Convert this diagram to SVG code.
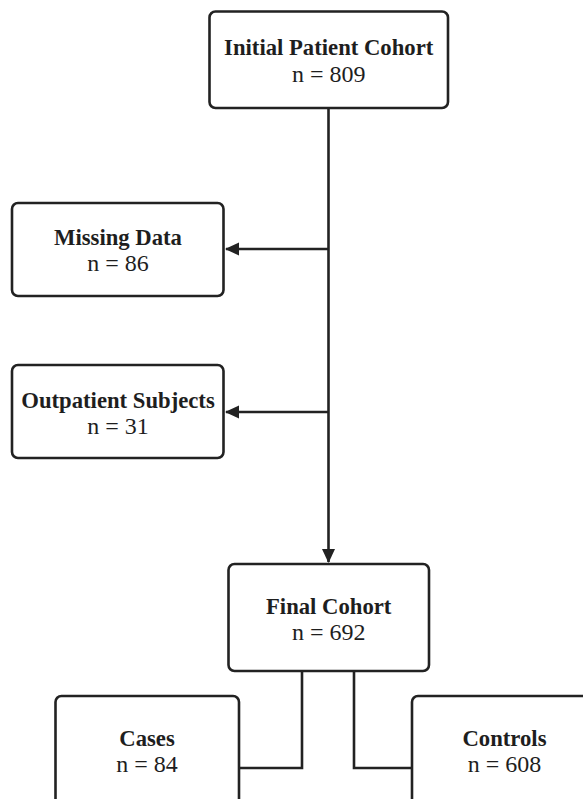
<svg xmlns="http://www.w3.org/2000/svg" width="583" height="799" viewBox="0 0 583 799">
<style>
.box{fill:#fff;stroke:#222;stroke-width:2.6}
.t{font-family:"Liberation Serif","Times New Roman",serif;fill:#1e1e1e;text-anchor:middle}
.b{font-weight:bold;font-size:22.7px}
.r{font-size:24px}
.c{fill:none;stroke:#222;stroke-width:2.6}
</style>
<defs>
<marker id="ah" viewBox="0 0 14 14" refX="13" refY="7" markerWidth="14" markerHeight="14" markerUnits="userSpaceOnUse" orient="auto">
<path d="M0,0.5 L14,7 L0,13.5 Z" fill="#222"/>
</marker>
</defs>
<rect width="583" height="799" fill="#fff"/>
<g id="connectors">
<line class="c" x1="328.5" y1="108" x2="328.5" y2="562" marker-end="url(#ah)"/>
<line class="c" x1="328.5" y1="249" x2="226" y2="249" marker-end="url(#ah)"/>
<line class="c" x1="328.5" y1="412" x2="226" y2="412" marker-end="url(#ah)"/>
<polyline class="c" points="302,671 302,768 239,768"/>
<polyline class="c" points="354,671 354,768 412,768"/>
</g>
<g id="initial">
<rect class="box" x="209.5" y="11.5" width="238.5" height="96.5" rx="6"/>
<text class="t b" x="328.7" y="55">Initial Patient Cohort</text>
<text class="t r" x="328.7" y="81.5">n = 809</text>
</g>
<g id="missing">
<rect class="box" x="12" y="203" width="211.5" height="93" rx="6"/>
<text class="t b" x="118" y="245">Missing Data</text>
<text class="t r" x="118" y="271">n = 86</text>
</g>
<g id="outpatient">
<rect class="box" x="12" y="365" width="211.5" height="93" rx="6"/>
<text class="t b" x="118" y="408">Outpatient Subjects</text>
<text class="t r" x="118" y="434">n = 31</text>
</g>
<g id="final">
<rect class="box" x="228.5" y="564" width="200.5" height="107" rx="6"/>
<text class="t b" x="328.7" y="614">Final Cohort</text>
<text class="t r" x="328.7" y="640">n = 692</text>
</g>
<g id="cases">
<rect class="box" x="55.5" y="696" width="183.5" height="120" rx="6"/>
<text class="t b" x="147" y="746">Cases</text>
<text class="t r" x="147" y="772">n = 84</text>
</g>
<g id="controls">
<rect class="box" x="412" y="696" width="185" height="120" rx="6"/>
<text class="t b" x="504.5" y="746">Controls</text>
<text class="t r" x="504.5" y="772">n = 608</text>
</g>
</svg>
